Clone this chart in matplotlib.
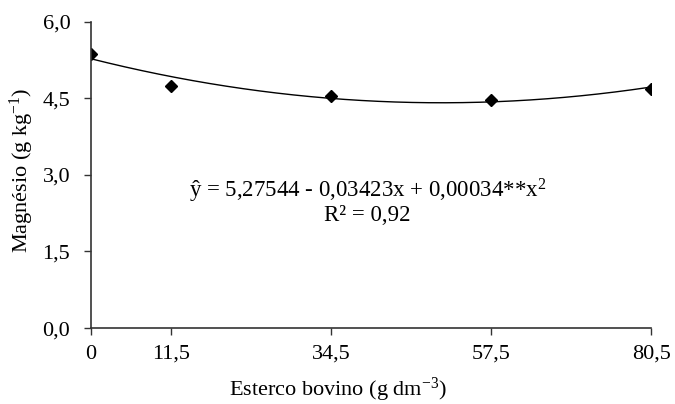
import numpy as np
import matplotlib
matplotlib.use("Agg")
import matplotlib.pyplot as plt

plt.rcParams['font.family'] = ['Liberation Serif', 'DejaVu Serif']
plt.rcParams['mathtext.fontset'] = 'custom'
plt.rcParams['mathtext.rm'] = 'Liberation Serif'
plt.rcParams['mathtext.it'] = 'Liberation Serif:italic'

# ---- data ----
doses = [0, 11.5, 34.5, 57.5, 80.5]
magnesio = [5.37, 4.75, 4.55, 4.47, 4.69]
coef = [5.27544, -0.03423, 0.00034]
xticks = [0, 11.5, 34.5, 57.5, 80.5]
xtick_labels = ['0', '11,5', '34,5', '57,5', '80,5']
yticks = [0, 1.5, 3.0, 4.5, 6.0]
ytick_labels = ['0,0', '1,5', '3,0', '4,5', '6,0']

fig = plt.figure(figsize=(6.75, 4.04), dpi=100)
ax = fig.add_axes([0.135, 0.188, 0.83, 0.758])

xs = np.linspace(0, 80.5, 200)
ax.plot(xs, coef[0] + coef[1] * xs + coef[2] * xs ** 2, color='black', lw=1.0)
ax.plot(doses, magnesio, 'D', color='black', markersize=6.5)

ax.set_xlim(0, 80.5)
ax.set_ylim(0, 6.0)
ax.set_xticks(xticks)
ax.set_xticklabels(xtick_labels)
ax.set_yticks(yticks)
ax.set_yticklabels(ytick_labels)
ax.tick_params(labelsize=16, direction='out', length=5, width=1, color='#333333')
ax.tick_params(axis='y', pad=10)
ax.tick_params(axis='x', pad=7)

for s in ['top', 'right']:
    ax.spines[s].set_visible(False)
for s in ['left', 'bottom']:
    ax.spines[s].set_color('#333333')
    ax.spines[s].set_linewidth(1.2)

ax.set_ylabel('Magnésio (g kg$^{-1}$)', fontsize=16)
ax.set_xlabel('Esterco bovino (g dm$^{-3}$)', fontsize=16)
ax.yaxis.set_label_coords(-0.123, 0.516)
ax.yaxis.label.set_va('center')
ax.xaxis.set_label_coords(0.441, -0.203)
ax.xaxis.label.set_va('center')

ax.text(0.493, 0.415, 'ŷ = 5,27544 - 0,03423x + 0,00034**x$^{2}$\nR² = 0,92',
        transform=ax.transAxes, ha='center', va='center', fontsize=16.5,
        linespacing=1.0, multialignment='center')

fig.savefig('out.png', dpi=100)
